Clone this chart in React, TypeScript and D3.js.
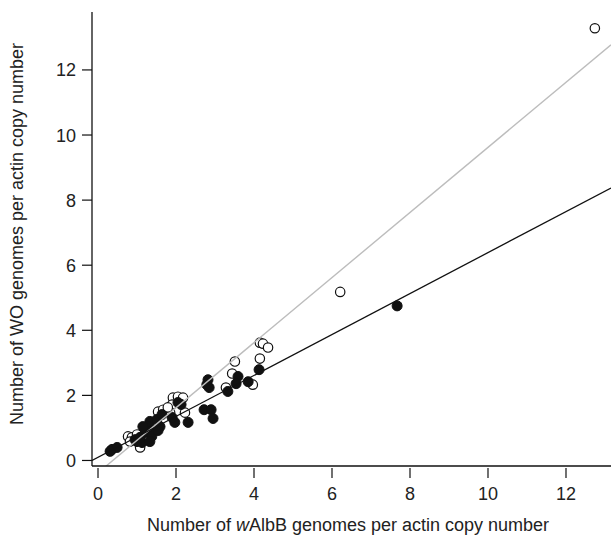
import React from "react";
import * as d3 from "d3";

// WO phage genomes vs wAlbB genomes, each per actin copy number
const openX = [12.74, 6.21, 4.15, 4.23, 4.36, 3.51, 4.15, 3.44, 3.28, 3.97, 1.92, 2.05, 2.18, 1.9, 1.54, 1.85, 2.23, 1.67, 1.79, 0.77, 0.87, 1.0, 1.08, 0.82];
const openY = [13.28, 5.18, 3.62, 3.59, 3.47, 3.04, 3.13, 2.67, 2.24, 2.33, 1.93, 1.96, 1.93, 1.72, 1.5, 1.47, 1.47, 1.56, 1.63, 0.74, 0.71, 0.8, 0.4, 0.58];

const filledX = [7.67, 4.13, 3.59, 3.54, 3.85, 3.33, 2.82, 2.79, 2.85, 2.72, 2.9, 2.95, 2.05, 2.13, 1.97, 2.31, 1.33, 1.28, 1.41, 1.21, 1.38, 1.51, 1.59, 1.64, 1.9, 0.95, 1.0, 1.13, 0.36, 0.49, 0.31, 1.15, 1.54, 1.33, 1.08];
const filledY = [4.75, 2.79, 2.58, 2.36, 2.42, 2.12, 2.48, 2.33, 2.24, 1.56, 1.56, 1.29, 1.78, 1.72, 1.17, 1.17, 1.2, 1.04, 0.95, 0.86, 0.74, 1.26, 1.04, 1.41, 1.32, 0.64, 0.58, 0.55, 0.34, 0.4, 0.28, 1.04, 0.92, 0.58, 0.71];

// fitted lines: [intercept, slope]
const fitFilled = [0.097, 0.629];
const fitOpen = [-0.38, 1.0];

const xTicks = [0, 2, 4, 6, 8, 10, 12];
const yTicks = [0, 2, 4, 6, 8, 10, 12];

const W = 611;
const H = 541;
const left = 92;
const right = 611;
const top = 12;
const bottom = 466;

export default function App() {
  const x = d3.scaleLinear().domain([-0.154, 13.154]).range([left, right]);
  const y = d3.scaleLinear().domain([-0.17, 13.78]).range([bottom, top]);
  const font = "'Liberation Sans', Arial, Helvetica, sans-serif";

  const fitPath = (f: number[]) => {
    const [x0, x1] = x.domain();
    return (
      d3
        .line<[number, number]>()
        .x((d) => x(d[0]))
        .y((d) => y(d[1]))([
        [x0, f[0] + f[1] * x0],
        [x1, f[0] + f[1] * x1],
      ]) || ""
    );
  };

  return (
    <svg
      width={W}
      height={H}
      style={{ position: "absolute", left: 0, top: 0, background: "#fff" }}
      fontFamily={font}
    >
      <defs>
        <clipPath id="plotArea">
          <rect x={left} y={top} width={right - left} height={bottom - top} />
        </clipPath>
      </defs>

      <g clipPath="url(#plotArea)">
        {openX.map((v, i) => (
          <circle
            key={"o" + i}
            cx={x(v)}
            cy={y(openY[i])}
            r={4.7}
            fill="#fff"
            stroke="#111"
            strokeWidth={1.2}
          />
        ))}
        {filledX.map((v, i) => (
          <circle
            key={"f" + i}
            cx={x(v)}
            cy={y(filledY[i])}
            r={5}
            fill="#111"
            stroke="#111"
            strokeWidth={1}
          />
        ))}
        <path d={fitPath(fitOpen)} stroke="#bdbdbd" strokeWidth={1.4} fill="none" />
        <path d={fitPath(fitFilled)} stroke="#111" strokeWidth={1.3} fill="none" />
      </g>

      {/* axes */}
      <line x1={left} y1={top} x2={left} y2={bottom} stroke="#111" strokeWidth={1.3} />
      <line x1={left} y1={bottom} x2={right} y2={bottom} stroke="#111" strokeWidth={1.3} />

      {xTicks.map((t) => (
        <g key={"xt" + t}>
          <line x1={x(t)} x2={x(t)} y1={bottom + 2} y2={bottom + 12} stroke="#111" strokeWidth={1.2} />
          <text x={x(t)} y={500} textAnchor="middle" fontSize={18} fill="#222">
            {t}
          </text>
        </g>
      ))}
      {yTicks.map((t) => (
        <g key={"yt" + t}>
          <line x1={left - 10} x2={left} y1={y(t)} y2={y(t)} stroke="#111" strokeWidth={1.2} />
          <text x={76} y={y(t) + 6.5} textAnchor="end" fontSize={18} fill="#222">
            {t}
          </text>
        </g>
      ))}

      <text x={348} y={531} textAnchor="middle" fontSize={18} fill="#222">
        Number of <tspan fontStyle="italic">w</tspan>AlbB genomes per actin copy number
      </text>
      <text
        transform={`translate(23, 234) rotate(-90)`}
        textAnchor="middle"
        fontSize={18}
        fill="#222"
      >
        Number of WO genomes per actin copy number
      </text>
    </svg>
  );
}
